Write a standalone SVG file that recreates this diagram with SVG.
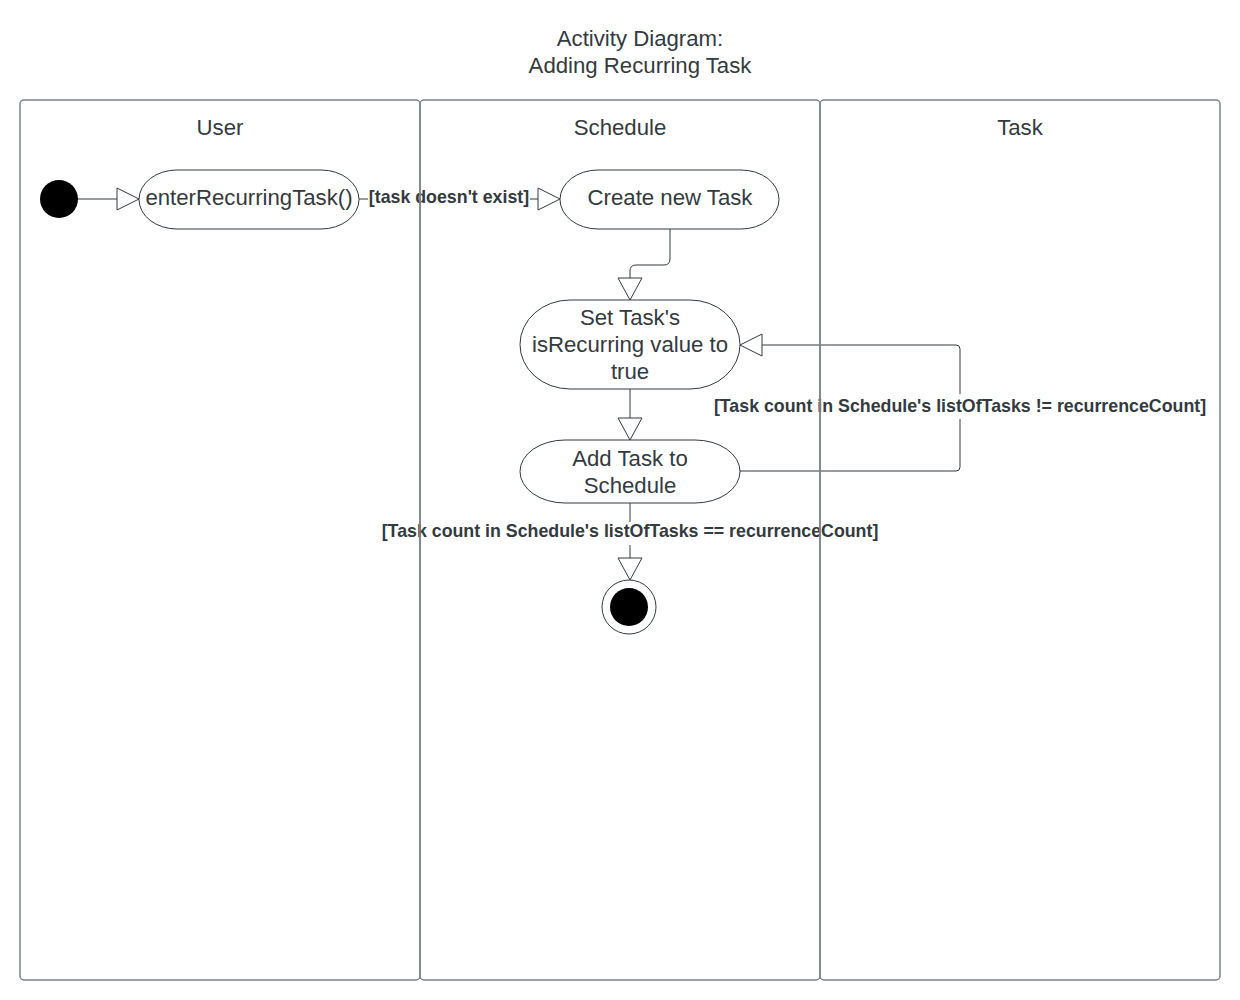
<svg xmlns="http://www.w3.org/2000/svg" width="1240" height="1000" viewBox="0 0 1240 1000">
<style>
.t{font-family:"Liberation Sans",Arial,sans-serif;fill:#333a40;text-anchor:middle}
.big{font-size:22.2px}
.lbl{font-size:17.8px;font-weight:bold;fill:#333a40}
.lane{fill:none;stroke:#7d8187;stroke-width:1.5}
.node{fill:#fff;stroke:#333a40;stroke-width:1}
.edge{fill:none;stroke:#333a40;stroke-width:1}
.arr{fill:#fff;stroke:#333a40;stroke-width:1}
</style>
<rect width="1240" height="1000" fill="#fff"/>
<g id="title">
<text class="t big" x="640" y="46">Activity Diagram:</text>
<text class="t big" x="640" y="73">Adding Recurring Task</text>
</g>
<g id="connectors">
<path class="edge" d="M78,199 H118"/>
<polygon class="arr" points="117,188 139,199 117,210"/>
<path class="edge" d="M359,199 H368 M530,199 H538"/>
<polygon class="arr" points="538,188 560,199 538,210"/>
<path class="edge" d="M670,229 V259 Q670,265 664,265 H636 Q630,265 630,271 V278"/>
<polygon class="arr" points="618,278 630,300 642,278"/>
<path class="edge" d="M630,389 V418"/>
<polygon class="arr" points="618,418 630,440 642,418"/>
<path class="edge" d="M740,471 H956 Q960,471 960,467 V419 M960,394 V349 Q960,345 956,345 H762"/>
<polygon class="arr" points="762,334 740,345 762,356"/>
<path class="edge" d="M630,503 V522 M630,545 V558"/>
<polygon class="arr" points="618,558 630,580 642,558"/>
<text class="t lbl" x="449" y="203">[task doesn't exist]</text>
<text class="t lbl" x="960" y="412">[Task count in Schedule's listOfTasks != recurrenceCount]</text>
<text class="t lbl" x="630" y="537">[Task count in Schedule's listOfTasks == recurrenceCount]</text>
</g>
<g id="lane-user">
<rect class="lane" x="20" y="100" width="400" height="880" rx="4"/>
<text class="t big" x="220" y="135">User</text>
</g>
<g id="lane-schedule">
<rect class="lane" x="420" y="100" width="400" height="880" rx="4"/>
<text class="t big" x="620" y="135">Schedule</text>
</g>
<g id="lane-task">
<rect class="lane" x="820" y="100" width="400" height="880" rx="4"/>
<text class="t big" x="1020" y="135">Task</text>
</g>
<g id="start">
<circle cx="59" cy="199" r="19" fill="#000"/>
</g>
<g id="enterRecurringTask">
<rect class="node" x="139" y="170" width="220" height="59" rx="38" ry="29.5"/>
<text class="t big" x="249" y="205">enterRecurringTask()</text>
</g>
<g id="createTask">
<rect class="node" x="560" y="170" width="219" height="59" rx="38" ry="29.5"/>
<text class="t big" x="670" y="205">Create new Task</text>
</g>
<g id="setRecurring">
<rect class="node" x="520" y="300" width="220" height="89" rx="50" ry="44.5"/>
<text class="t big" x="630" y="325">Set Task's</text>
<text class="t big" x="630" y="352">isRecurring value to</text>
<text class="t big" x="630" y="379">true</text>
</g>
<g id="addTask">
<rect class="node" x="520" y="440" width="220" height="63" rx="45" ry="31.5"/>
<text class="t big" x="630" y="466">Add Task to</text>
<text class="t big" x="630" y="493">Schedule</text>
</g>
<g id="end">
<circle cx="629" cy="607" r="27" fill="#fff" stroke="#333a40" stroke-width="1"/>
<circle cx="629" cy="607" r="19" fill="#000"/>
</g>
</svg>
